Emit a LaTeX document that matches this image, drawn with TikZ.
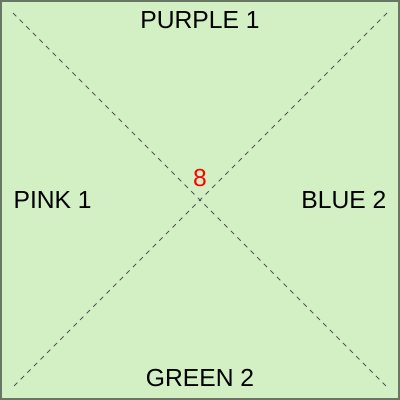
\documentclass[tikz,border=0pt]{standalone}
\usepackage{fontspec}
\setmainfont{Liberation Sans}
\definecolor{bgfill}{RGB}{211,239,196}
\definecolor{bordercol}{RGB}{104,118,100}
\definecolor{diagcol}{RGB}{80,90,80}
\tikzset{
  lbl/.style={inner sep=0pt, font=\fontsize{18.5}{21}\selectfont, text=black},
  numlbl/.style={inner sep=0pt, font=\fontsize{18.5}{21}\selectfont, text=red},
  diag/.style={draw=diagcol, line width=0.6pt, dash pattern=on 3.5pt off 3.5pt},
  frame/.style={draw=bordercol, fill=bgfill, line width=1.8pt}
}
\begin{document}
\begin{tikzpicture}[x=0.75pt, y=-0.75pt]
\useasboundingbox (0,0) rectangle (400,400);
\draw[frame] (1.2,1.2) rectangle (398.8,398.8);
\coordinate (tl) at (13,13);
\coordinate (br) at (387,387);
\coordinate (tr) at (387,13);
\coordinate (bl) at (13,387);
\draw[diag] (tl) -- (br);
\draw[diag] (tr) -- (bl);
\node[lbl, anchor=base] (purple) at (200,28.5) {PURPLE 1};
\node[lbl, anchor=base] (green) at (200,386.7) {GREEN 2};
\node[lbl, anchor=base west] (pink) at (13.3,208.3) {PINK 1};
\node[lbl, anchor=base east] (blue) at (386.7,208) {BLUE 2};
\node[numlbl, anchor=base] (num) at (200,186.7) {8};
\end{tikzpicture}
\end{document}
